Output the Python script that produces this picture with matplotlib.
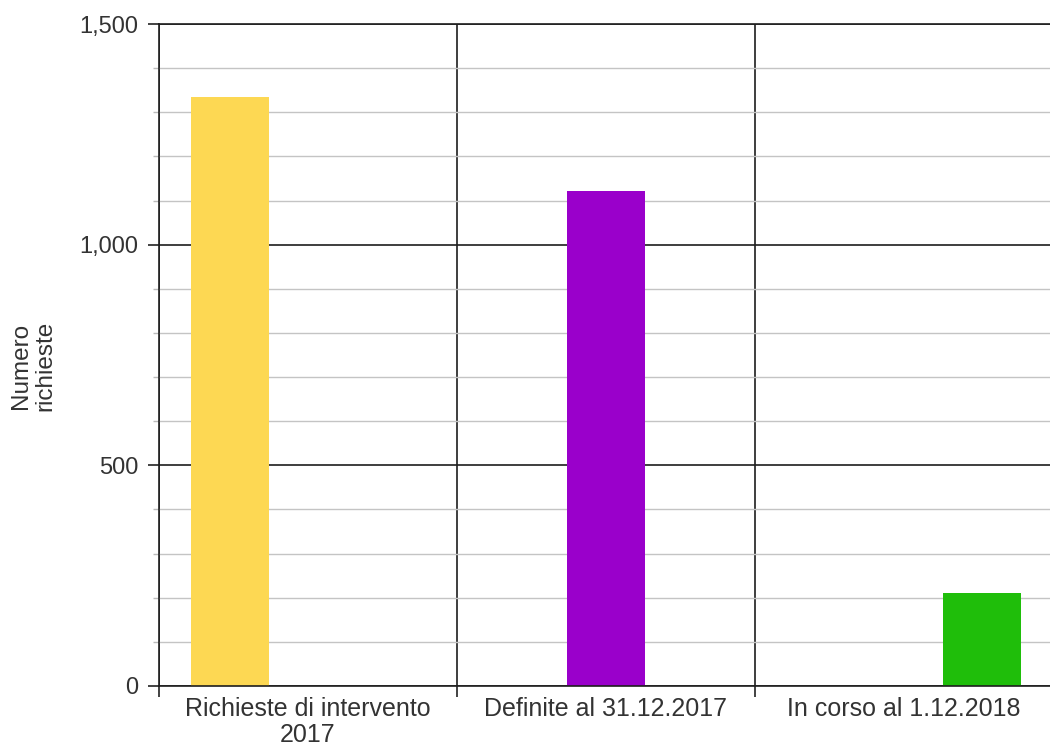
import matplotlib
matplotlib.use("Agg")
import matplotlib.pyplot as plt
import numpy as np
from matplotlib.ticker import MultipleLocator, FuncFormatter, FixedLocator

plt.rcParams['font.family'] = ['Liberation Sans', 'DejaVu Sans']

categories = ["Richieste di intervento\n2017", "Definite al 31.12.2017", "In corso al 1.12.2018"]
richieste = [1335, 0, 0]
definite = [0, 1122, 0]
in_corso = [0, 0, 211]
colors = ['#FDD853', '#9A00CB', '#1FBE0A']
y_label = "Numero\nrichieste"

W, H = 1050, 747
fig = plt.figure(figsize=(W / 100, H / 100), dpi=100)
ax = fig.add_axes([159 / W, (H - 686) / H, 894 / W, (686 - 24) / H])

x = np.arange(len(categories))
bw = 0.262
for i, (vals, c) in enumerate(zip([richieste, definite, in_corso], colors)):
    ax.bar(x + (i - 1) * bw, vals, width=bw, color=c, zorder=2, linewidth=0)

ax.set_xlim(-0.5, 2.5)
ax.set_ylim(0, 1500)
ax.set_axisbelow(True)

txt = '#333333'
# y axis
ax.yaxis.set_major_locator(MultipleLocator(500))
ax.yaxis.set_minor_locator(MultipleLocator(100))
ax.yaxis.set_major_formatter(FuncFormatter(lambda v, p: f"{int(v):,}"))
ax.tick_params(axis='y', which='major', length=8, width=1.2, color='#222222',
               labelsize=17, labelcolor=txt, pad=7)
ax.tick_params(axis='y', which='minor', length=4.5, width=1, color='#bbbbbb')
ax.grid(axis='y', which='major', color='#1e1e1e', linewidth=1.2)
ax.grid(axis='y', which='minor', color='#c4c4c4', linewidth=1)

# x axis: boundaries as major ticks, labels on minor ticks at centers
ax.xaxis.set_major_locator(FixedLocator([-0.5, 0.5, 1.5, 2.5]))
ax.xaxis.set_minor_locator(FixedLocator(x))
ax.set_xticklabels([], minor=False)
ax.set_xticklabels(categories, minor=True)
ax.tick_params(axis='x', which='major', length=8, width=1.2, color='#222222')
ax.tick_params(axis='x', which='minor', length=0, labelsize=18, labelcolor=txt, pad=8)
for lbl in ax.get_xticklabels(minor=True):
    lbl.set_linespacing(1.12)
ax.grid(axis='x', which='major', color='#1e1e1e', linewidth=1.2)

for s in ['left', 'bottom', 'top']:
    ax.spines[s].set_color('#1e1e1e')
    ax.spines[s].set_linewidth(1.2)
ax.spines['right'].set_visible(False)

fig.text(33 / W, 1 - 366 / H, y_label, rotation=90, ha='center', va='center',
         fontsize=17.5, color=txt, linespacing=1.15)

fig.savefig("out.png", dpi=100)
